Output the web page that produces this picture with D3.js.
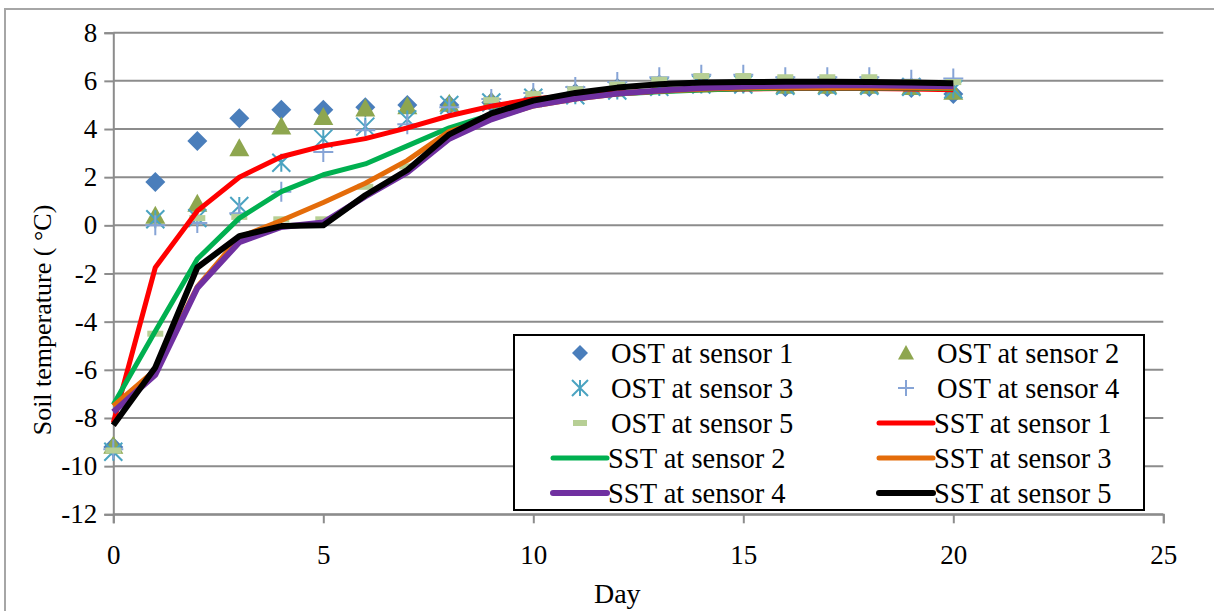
<!DOCTYPE html>
<html>
<head>
<meta charset="utf-8">
<script src="https://cdn.jsdelivr.net/npm/d3@7"></script>
<style>
  body { margin: 0; background: #fff; }
  svg { display: block; }
  svg text { font-family: "Liberation Serif", "Times New Roman", serif; }
</style>
</head>
<body>
<div id="chart"></div>
<script>
// Data
const days = [0, 1, 2, 3, 4, 5, 6, 7, 8, 9, 10, 11, 12, 13, 14, 15, 16, 17, 18, 19, 20];
const ost1 = [-9.2, 1.8, 3.5, 4.45, 4.8, 4.8, 4.9, 5.0, 5.0, 5.1, 5.3, 5.5, 5.7, 5.85, 5.9, 5.9, 5.75, 5.75, 5.75, 5.7, 5.45];
const ost2 = [-9.15, 0.4, 0.9, 3.2, 4.1, 4.5, 4.85, 4.95, 5.05, 5.15, 5.35, 5.5, 5.7, 5.85, 5.9, 5.9, 5.8, 5.8, 5.8, 5.75, 5.55];
const ost3 = [-9.4, 0.25, 0.3, 0.8, 2.6, 3.6, 4.1, 4.4, 5.0, 5.1, 5.3, 5.4, 5.6, 5.75, 5.85, 5.85, 5.8, 5.8, 5.8, 5.75, 5.65];
const ost4 = [-9.3, 0.0, 0.1, 0.5, 1.4, 3.05, 3.95, 4.2, 4.9, 5.25, 5.5, 5.75, 5.95, 6.15, 6.25, 6.25, 6.15, 6.15, 6.15, 6.05, 6.1];
const ost5 = [-9.35, -4.5, 0.3, 0.35, 0.25, 0.25, 1.6, 2.45, 3.9, 5.2, 5.45, 5.65, 5.85, 6.05, 6.2, 6.2, 6.15, 6.15, 6.15, 5.95, 5.95];
const sst1 = [-8.2, -1.75, 0.6, 2.0, 2.85, 3.3, 3.6, 4.05, 4.55, 4.95, 5.25, 5.4, 5.5, 5.58, 5.63, 5.66, 5.68, 5.68, 5.68, 5.66, 5.63];
const sst2 = [-7.45, -4.4, -1.4, 0.3, 1.4, 2.1, 2.55, 3.3, 4.05, 4.6, 5.05, 5.3, 5.45, 5.55, 5.62, 5.67, 5.7, 5.7, 5.7, 5.7, 5.68];
const sst3 = [-7.5, -6.0, -2.55, -0.5, 0.2, 0.95, 1.75, 2.7, 3.9, 4.45, 4.95, 5.25, 5.45, 5.57, 5.65, 5.7, 5.72, 5.72, 5.72, 5.72, 5.7];
const sst4 = [-7.75, -6.2, -2.6, -0.7, -0.07, 0.12, 1.2, 2.2, 3.6, 4.4, 4.98, 5.27, 5.47, 5.6, 5.7, 5.77, 5.8, 5.82, 5.82, 5.8, 5.78];
const sst5 = [-8.3, -5.9, -1.75, -0.45, -0.03, 0.0, 1.25, 2.3, 3.78, 4.65, 5.18, 5.5, 5.72, 5.86, 5.93, 5.95, 5.96, 5.96, 5.95, 5.93, 5.9];

const xTicks = [0, 5, 10, 15, 20, 25];
const yTicks = [-12, -10, -8, -6, -4, -2, 0, 2, 4, 6, 8];

const ostNames = ["OST at sensor 1", "OST at sensor 2", "OST at sensor 3", "OST at sensor 4", "OST at sensor 5"];
const sstNames = ["SST at sensor 1", "SST at sensor 2", "SST at sensor 3", "SST at sensor 4", "SST at sensor 5"];

const width = 1214, height = 611;
const fontSize = 26;
const legendFont = 28.5;
const serif = "'Liberation Serif', 'Times New Roman', serif";

const svg = d3.select("#chart").append("svg")
  .attr("width", width)
  .attr("height", height)
  .attr("font-family", serif);

// outer chart frame
svg.append("rect")
  .attr("x", 5).attr("y", 9)
  .attr("width", width + 20).attr("height", height + 20)
  .attr("fill", "none")
  .attr("stroke", "#a6a6a6")
  .attr("stroke-width", 2);

const x = d3.scaleLinear().domain([0, 25]).range([113.3, 1163.3]);
const y = d3.scaleLinear().domain([-12, 8]).range([514.3, 32.7]);

// horizontal gridlines
svg.append("g")
  .selectAll("line")
  .data(yTicks)
  .join("line")
  .attr("x1", x(0)).attr("x2", x(25))
  .attr("y1", d => y(d)).attr("y2", d => y(d))
  .attr("stroke", "#8c8c8c")
  .attr("stroke-width", 2);

// y axis
const yAxis = svg.append("g")
  .attr("transform", `translate(${x(0)},0)`)
  .call(d3.axisLeft(y).tickValues(yTicks).tickSize(9).tickPadding(7).tickFormat(d => d < 0 ? "-" + Math.abs(d) : d));
// x axis
const xAxis = svg.append("g")
  .attr("transform", `translate(0,${y(-12)})`)
  .call(d3.axisBottom(x).tickValues(xTicks).tickSize(9).tickPadding(22));

[yAxis, xAxis].forEach(a => {
  a.attr("font-family", serif).attr("font-size", 27);
  a.select(".domain").attr("stroke", "#8c8c8c").attr("stroke-width", 2);
  a.selectAll(".tick line").attr("stroke", "#8c8c8c").attr("stroke-width", 2);
  a.selectAll("text").attr("fill", "#000");
});

// axis titles
svg.append("text")
  .attr("x", x(12)).attr("y", 603)
  .attr("text-anchor", "middle")
  .attr("font-size", 28)
  .text("Day");

svg.append("text")
  .attr("transform", `translate(42,320) rotate(-90)`)
  .attr("text-anchor", "middle")
  .attr("dy", "0.35em")
  .attr("font-size", fontSize)
  .text("Soil temperature ( °C)");

// marker styles for OST series
const markerStyles = [
  { kind: "diamond", color: "#4a7ebb", size: 10 },
  { kind: "triangle", color: "#8ea64f", size: 10 },
  { kind: "asterisk", color: "#4aa3c1", size: 9 },
  { kind: "plus", color: "#86a4d6", size: 10 },
  { kind: "dash", color: "#b7cf95", size: 8 }
];

function drawMarker(g, st) {
  const s = st.size;
  if (st.kind === "diamond") {
    g.append("path").attr("d", `M0,${-s}L${s},0L0,${s}L${-s},0Z`).attr("fill", st.color);
  } else if (st.kind === "triangle") {
    g.append("path").attr("d", `M0,${-s}L${s},${s * 0.8}L${-s},${s * 0.8}Z`).attr("fill", st.color);
  } else if (st.kind === "asterisk") {
    g.append("path")
      .attr("d", `M${-s},${-s}L${s},${s}M${s},${-s}L${-s},${s}M0,${-s}L0,${s}`)
      .attr("stroke", st.color).attr("stroke-width", 2).attr("fill", "none");
  } else if (st.kind === "plus") {
    g.append("path")
      .attr("d", `M${-s},0L${s},0M0,${-s}L0,${s}`)
      .attr("stroke", st.color).attr("stroke-width", 2).attr("fill", "none");
  } else {
    g.append("rect").attr("x", -s).attr("y", -3).attr("width", 2 * s).attr("height", 6).attr("fill", st.color);
  }
}

const ostSeries = [ost1, ost2, ost3, ost4, ost5];
ostSeries.forEach((vals, i) => {
  svg.append("g")
    .selectAll("g")
    .data(vals)
    .join("g")
    .attr("transform", (d, j) => `translate(${x(days[j])},${y(d)})`)
    .each(function () { drawMarker(d3.select(this), markerStyles[i]); });
});

// lines for SST series
const lineStyles = [
  { color: "#ff0000", w: 5 },
  { color: "#00b050", w: 5 },
  { color: "#e46c0a", w: 5 },
  { color: "#7030a0", w: 6 },
  { color: "#000000", w: 6 }
];
const sstSeries = [sst1, sst2, sst3, sst4, sst5];
const line = d3.line()
  .x((d, j) => x(days[j]))
  .y(d => y(d));

sstSeries.forEach((vals, i) => {
  svg.append("path")
    .datum(vals)
    .attr("d", line)
    .attr("fill", "none")
    .attr("stroke", lineStyles[i].color)
    .attr("stroke-width", lineStyles[i].w)
    .attr("stroke-linejoin", "round");
});

// legend
const legend = svg.append("g");
legend.append("rect")
  .attr("x", 514).attr("y", 335)
  .attr("width", 630).attr("height", 175)
  .attr("fill", "#fff")
  .attr("stroke", "#000")
  .attr("stroke-width", 2);

for (let r = 0; r < 5; r++) {
  for (let c = 0; c < 2; c++) {
    const idx = r * 2 + c;
    const cy = 353 + r * 35;
    const colX = c === 0 ? 0 : 326;
    const g = legend.append("g");
    if (idx < 5) {
      const st = Object.assign({}, markerStyles[idx]);
      st.size = st.kind === "dash" ? 7 : 8;
      const m = g.append("g").attr("transform", `translate(${580 + colX},${cy})`);
      drawMarker(m, st);
      g.append("text")
        .attr("x", 611 + colX).attr("y", cy)
        .attr("dy", "0.35em")
        .attr("font-size", legendFont)
        .text(ostNames[idx]);
    } else {
      const k = idx - 5;
      g.append("line")
        .attr("x1", 553 + colX).attr("x2", 607 + colX)
        .attr("y1", cy).attr("y2", cy)
        .attr("stroke", lineStyles[k].color)
        .attr("stroke-width", lineStyles[k].w)
        .attr("stroke-linecap", "round");
      g.append("text")
        .attr("x", 608 + colX).attr("y", cy)
        .attr("dy", "0.35em")
        .attr("font-size", legendFont)
        .text(sstNames[k]);
    }
  }
}
</script>
</body>
</html>
